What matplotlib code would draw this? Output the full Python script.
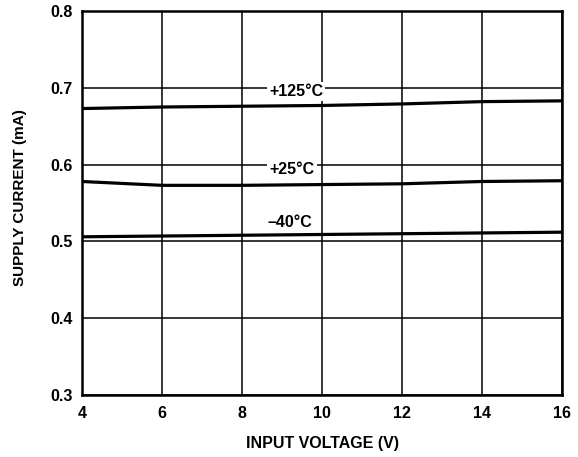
import matplotlib
matplotlib.use("Agg")
import matplotlib.pyplot as plt

voltage = [4, 6, 8, 10, 12, 14, 16]
i_125 = [0.673, 0.675, 0.676, 0.677, 0.679, 0.682, 0.683]
i_25 = [0.578, 0.573, 0.573, 0.574, 0.575, 0.578, 0.579]
i_m40 = [0.506, 0.507, 0.508, 0.509, 0.510, 0.511, 0.512]
labels = ["+125°C", "+25°C", "–40°C"]
xticks = [4, 6, 8, 10, 12, 14, 16]
yticks = [0.3, 0.4, 0.5, 0.6, 0.7, 0.8]

plt.rcParams['font.family'] = ['Liberation Sans', 'DejaVu Sans']
plt.rcParams['font.weight'] = 'bold'

fig = plt.figure(figsize=(5.78, 4.57), dpi=100)
ax = fig.add_axes([0.1419, 0.1357, 0.8304, 0.8402])

ax.set_xlim(4, 16)
ax.set_ylim(0.3, 0.8)
ax.set_xticks(xticks)
ax.set_yticks(yticks)
ax.set_xticklabels([str(v) for v in xticks])
ax.set_yticklabels([f"{v:.1f}" for v in yticks])
ax.tick_params(length=0, labelsize=11.5, pad=8)
ax.tick_params(axis='y', pad=7)
for lab in ax.get_xticklabels() + ax.get_yticklabels():
    lab.set_fontweight('bold')
ax.grid(True, color='black', linewidth=1.1)
ax.set_axisbelow(True)
for s in ax.spines.values():
    s.set_linewidth(1.8)

for y in (i_125, i_25, i_m40):
    ax.plot(voltage, y, color='black', linewidth=2.3, zorder=3)

label_pos = [(9.35, 0.695), (9.25, 0.593), (9.2, 0.525)]
for (x, y), t in zip(label_pos, labels):
    ax.text(x, y, t, ha='center', va='center', fontsize=11.5, fontweight='bold',
            bbox=dict(facecolor='white', edgecolor='none', pad=1.5), zorder=4)

ax.set_xlabel("INPUT VOLTAGE (V)", fontsize=11.5, fontweight='bold')
ax.set_ylabel("SUPPLY CURRENT (mA)", fontsize=11, fontweight='bold')
ax.xaxis.set_label_coords(0.5, -0.107)
ax.yaxis.set_label_coords(-0.115, 0.514)

fig.savefig("out.png", dpi=100)
